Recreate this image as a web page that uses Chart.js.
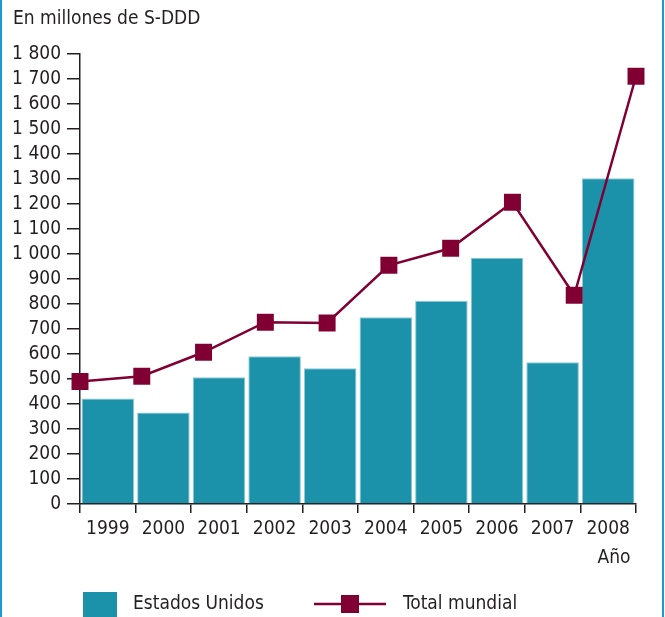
<!DOCTYPE html>
<html>
<head>
<meta charset="utf-8">
<script src="https://cdn.jsdelivr.net/npm/chart.js@4/dist/chart.umd.min.js"></script>
<style>
  html, body { margin: 0; padding: 0; background: #fff; }
  #wrap { position: relative; width: 665px; height: 617px; overflow: hidden; }
  #titulo { position: absolute; left: 13px; top: 6px; font: 19px "Liberation Sans Narrow", "DejaVu Sans Condensed", sans-serif; color: #231f20; }
</style>
</head>
<body>
<div id="wrap">
  <canvas id="grafica" width="665" height="617"></canvas>
  <div id="titulo">En millones de S-DDD</div>
</div>
<script>
// Datos
var anios = ['1999','2000','2001','2002','2003','2004','2005','2006','2007','2008'];
var estadosUnidos = [422, 366, 507, 591, 543, 747, 813, 985, 567, 1303];
var totalMundial = [490, 511, 607, 727, 724, 955, 1023, 1207, 835, 1711];
var yTicks = [0, 100, 200, 300, 400, 500, 600, 700, 800, 900, 1000, 1100, 1200, 1300, 1400, 1500, 1600, 1700, 1800];

var colorBarra = '#1c92aa';
var colorLinea = '#800034';
var colorTexto = '#231f20';
var fuente = '"Liberation Sans Narrow", "DejaVu Sans Condensed", sans-serif';
var tamFuente = 19;

function miles(v) {
  return String(v).replace(/\B(?=(\d{3})+(?!\d))/g, ' ');
}

// leyenda y marco dibujados a mano
var leyendaPlugin = {
  id: 'leyendaManual',
  afterDraw: function (chart) {
    var ctx = chart.ctx;
    ctx.save();
    ctx.fillStyle = '#1a9ad0';
    ctx.fillRect(0, 0, 2, 617);
    ctx.fillRect(662, 0, 2, 617);

    ctx.fillStyle = colorBarra;
    ctx.fillRect(83, 592, 34, 30);

    ctx.strokeStyle = colorLinea;
    ctx.lineWidth = 2.5;
    ctx.beginPath();
    ctx.moveTo(314, 604);
    ctx.lineTo(386, 604);
    ctx.stroke();
    ctx.fillStyle = colorLinea;
    ctx.fillRect(341, 595, 18, 18);

    ctx.fillStyle = colorTexto;
    ctx.font = tamFuente + 'px ' + fuente;
    ctx.textBaseline = 'middle';
    ctx.fillText('Estados Unidos', 133, 604);
    ctx.fillText('Total mundial', 403, 604);
    ctx.restore();
  }
};

new Chart(document.getElementById('grafica'), {
  type: 'bar',
  data: {
    labels: anios,
    datasets: [{
      type: 'line',
      label: 'Total mundial',
      data: totalMundial,
      xAxisID: 'x2',
      order: 0,
      borderColor: colorLinea,
      backgroundColor: colorLinea,
      borderWidth: 2.5,
      pointStyle: 'rect',
      pointRadius: 12,
      pointBorderWidth: 0,
      tension: 0
    }, {
      type: 'bar',
      label: 'Estados Unidos',
      data: estadosUnidos,
      xAxisID: 'x',
      order: 1,
      grouped: false,
      backgroundColor: colorBarra,
      borderColor: '#8cc9d6',
      borderWidth: 1,
      barPercentage: 0.945,
      categoryPercentage: 1
    }]
  },
  options: {
    responsive: false,
    animation: false,
    layout: { padding: { left: 0, right: 29, top: 54, bottom: 47 } },
    plugins: {
      legend: { display: false },
      tooltip: { enabled: false }
    },
    scales: {
      x: {
        type: 'category',
        offset: true,
        afterFit: function (s) { s.height = 66; },
        grid: { offset: true, drawOnChartArea: false, tickLength: 9, color: colorTexto, lineWidth: 1.5 },
        border: { display: true, color: colorTexto, width: 1.5 },
        ticks: { color: colorTexto, font: { family: fuente, size: tamFuente }, padding: 5, maxRotation: 0, autoSkip: false },
        title: { display: true, text: 'Año ', align: 'end', color: colorTexto, font: { family: fuente, size: tamFuente }, padding: { top: 0, bottom: 1 } }
      },
      x2: {
        type: 'category',
        labels: anios,
        offset: false,
        display: false
      },
      y: {
        min: 0,
        max: 1800,
        afterFit: function (s) { s.width = 80; },
        afterBuildTicks: function (s) { s.ticks = yTicks.map(function (v) { return { value: v }; }); },
        grid: { drawOnChartArea: false, tickLength: 13, color: colorTexto, lineWidth: 1.5 },
        border: { display: true, color: colorTexto, width: 1.5 },
        ticks: { color: colorTexto, font: { family: fuente, size: tamFuente }, padding: 6, autoSkip: false, callback: function (v) { return miles(v); } }
      }
    }
  },
  plugins: [leyendaPlugin]
});
</script>
</body>
</html>
